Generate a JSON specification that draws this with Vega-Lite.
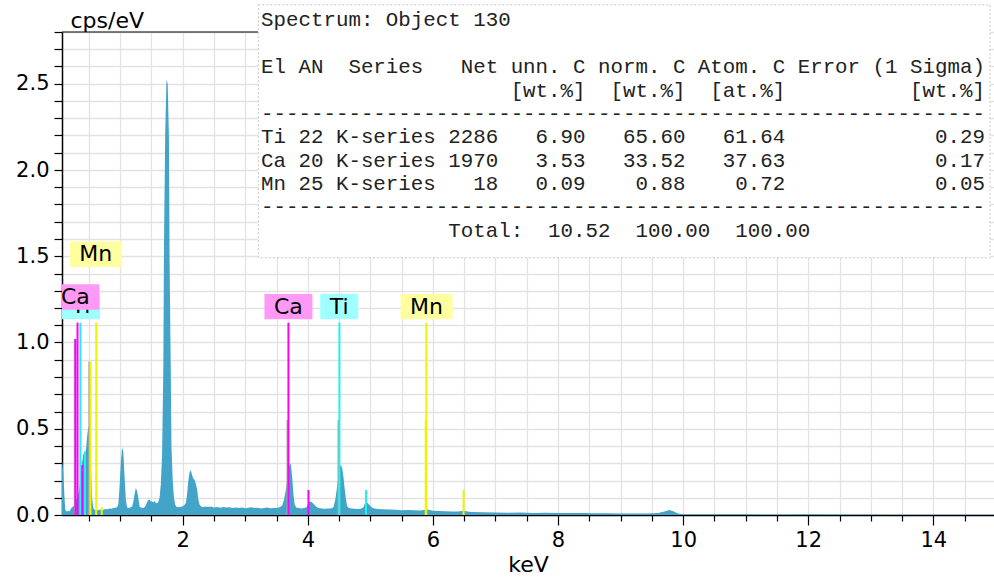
{
  "$schema": "https://vega.github.io/schema/vega-lite/v6.json",
  "width": 932,
  "height": 483,
  "autosize": {"type": "none"},
  "padding": {"left": 62, "top": 32, "right": 0, "bottom": 63},
  "background": "white",
  "config": {
    "view": {"stroke": null},
    "axis": {
      "labelFont": "DejaVu Sans", "labelFontSize": 21, "labelColor": "#000",
      "titleFont": "DejaVu Sans", "titleFontSize": 22, "titleFontWeight": "normal", "titleColor": "#000",
      "gridColor": "#e2e2e2", "gridWidth": 1.3,
      "domainColor": "#000", "domainWidth": 1.5,
      "tickColor": "#000", "tickWidth": 1.2,
      "labelOverlap": false, "labelFlush": false, "labelBound": false
    }
  },
  "datasets": {
    "spectrum": [
      {"keV":0.07,"cps":0.31},{"keV":0.08,"cps":0.29},{"keV":0.09,"cps":0.24},{"keV":0.10,"cps":0.18},{"keV":0.11,"cps":0.1},
      {"keV":0.12,"cps":0.04},{"keV":0.13,"cps":0.025},{"keV":0.15,"cps":0.02},{"keV":0.17,"cps":0.025},{"keV":0.19,"cps":0.02},
      {"keV":0.21,"cps":0.035},{"keV":0.23,"cps":0.045},{"keV":0.25,"cps":0.05},{"keV":0.27,"cps":0.06},{"keV":0.29,"cps":0.08},
      {"keV":0.31,"cps":0.1},{"keV":0.33,"cps":0.12},{"keV":0.35,"cps":0.16},{"keV":0.37,"cps":0.22},{"keV":0.39,"cps":0.3},
      {"keV":0.41,"cps":0.35},{"keV":0.43,"cps":0.37},{"keV":0.45,"cps":0.36},{"keV":0.47,"cps":0.45},{"keV":0.49,"cps":0.51},
      {"keV":0.51,"cps":0.52},{"keV":0.53,"cps":0.3},{"keV":0.55,"cps":0.1},{"keV":0.57,"cps":0.04},{"keV":0.59,"cps":0.03},
      {"keV":0.62,"cps":0.025},{"keV":0.65,"cps":0.03},{"keV":0.68,"cps":0.03},{"keV":0.71,"cps":0.028},{"keV":0.74,"cps":0.032},
      {"keV":0.77,"cps":0.035},{"keV":0.80,"cps":0.033},{"keV":0.83,"cps":0.038},{"keV":0.86,"cps":0.036},{"keV":0.89,"cps":0.04},
      {"keV":0.92,"cps":0.042},{"keV":0.95,"cps":0.045},{"keV":0.97,"cps":0.06},{"keV":0.99,"cps":0.16},{"keV":1.01,"cps":0.3},
      {"keV":1.03,"cps":0.39},{"keV":1.05,"cps":0.37},{"keV":1.07,"cps":0.22},{"keV":1.09,"cps":0.09},{"keV":1.11,"cps":0.045},
      {"keV":1.13,"cps":0.04},{"keV":1.15,"cps":0.042},{"keV":1.17,"cps":0.045},{"keV":1.19,"cps":0.05},{"keV":1.21,"cps":0.075},
      {"keV":1.23,"cps":0.12},{"keV":1.25,"cps":0.155},{"keV":1.27,"cps":0.14},{"keV":1.29,"cps":0.1},{"keV":1.31,"cps":0.05},
      {"keV":1.33,"cps":0.043},{"keV":1.35,"cps":0.042},{"keV":1.37,"cps":0.04},{"keV":1.39,"cps":0.045},{"keV":1.41,"cps":0.055},
      {"keV":1.43,"cps":0.075},{"keV":1.45,"cps":0.085},{"keV":1.47,"cps":0.088},{"keV":1.49,"cps":0.08},{"keV":1.51,"cps":0.078},
      {"keV":1.53,"cps":0.072},{"keV":1.55,"cps":0.082},{"keV":1.57,"cps":0.07},{"keV":1.59,"cps":0.068},{"keV":1.61,"cps":0.075},
      {"keV":1.63,"cps":0.1},{"keV":1.65,"cps":0.18},{"keV":1.67,"cps":0.35},{"keV":1.69,"cps":0.86},{"keV":1.70,"cps":1.54},
      {"keV":1.72,"cps":2.21},{"keV":1.74,"cps":2.52},{"keV":1.76,"cps":2.50},{"keV":1.78,"cps":2.18},{"keV":1.79,"cps":1.47},
      {"keV":1.81,"cps":0.80},{"keV":1.82,"cps":0.4},{"keV":1.84,"cps":0.2},{"keV":1.86,"cps":0.1},{"keV":1.88,"cps":0.06},
      {"keV":1.90,"cps":0.048},{"keV":1.93,"cps":0.045},{"keV":1.96,"cps":0.047},{"keV":1.99,"cps":0.05},{"keV":2.02,"cps":0.055},
      {"keV":2.05,"cps":0.07},{"keV":2.07,"cps":0.12},{"keV":2.09,"cps":0.2},{"keV":2.11,"cps":0.25},{"keV":2.13,"cps":0.26},
      {"keV":2.15,"cps":0.23},{"keV":2.17,"cps":0.21},{"keV":2.19,"cps":0.205},{"keV":2.21,"cps":0.18},{"keV":2.23,"cps":0.15},
      {"keV":2.25,"cps":0.09},{"keV":2.27,"cps":0.06},{"keV":2.30,"cps":0.048},{"keV":2.33,"cps":0.045},{"keV":2.36,"cps":0.05},
      {"keV":2.40,"cps":0.046},{"keV":2.45,"cps":0.05},{"keV":2.50,"cps":0.044},{"keV":2.55,"cps":0.047},{"keV":2.60,"cps":0.042},
      {"keV":2.65,"cps":0.046},{"keV":2.70,"cps":0.043},{"keV":2.75,"cps":0.045},{"keV":2.80,"cps":0.041},{"keV":2.85,"cps":0.044},
      {"keV":2.90,"cps":0.04},{"keV":2.95,"cps":0.043},{"keV":3.00,"cps":0.039},{"keV":3.05,"cps":0.042},{"keV":3.10,"cps":0.045},
      {"keV":3.15,"cps":0.04},{"keV":3.20,"cps":0.042},{"keV":3.25,"cps":0.038},{"keV":3.30,"cps":0.041},{"keV":3.35,"cps":0.043},
      {"keV":3.40,"cps":0.039},{"keV":3.45,"cps":0.041},{"keV":3.50,"cps":0.04},{"keV":3.55,"cps":0.045},{"keV":3.59,"cps":0.055},
      {"keV":3.62,"cps":0.09},{"keV":3.65,"cps":0.15},{"keV":3.67,"cps":0.2},{"keV":3.69,"cps":0.26},{"keV":3.71,"cps":0.3},
      {"keV":3.73,"cps":0.29},{"keV":3.75,"cps":0.22},{"keV":3.77,"cps":0.12},{"keV":3.79,"cps":0.06},{"keV":3.82,"cps":0.042},
      {"keV":3.86,"cps":0.04},{"keV":3.90,"cps":0.038},{"keV":3.94,"cps":0.04},{"keV":3.98,"cps":0.045},{"keV":4.01,"cps":0.07},
      {"keV":4.03,"cps":0.078},{"keV":4.06,"cps":0.075},{"keV":4.09,"cps":0.065},{"keV":4.13,"cps":0.05},{"keV":4.17,"cps":0.04},
      {"keV":4.22,"cps":0.037},{"keV":4.27,"cps":0.036},{"keV":4.32,"cps":0.038},{"keV":4.37,"cps":0.037},{"keV":4.41,"cps":0.045},
      {"keV":4.44,"cps":0.09},{"keV":4.47,"cps":0.17},{"keV":4.49,"cps":0.23},{"keV":4.51,"cps":0.28},{"keV":4.53,"cps":0.29},
      {"keV":4.55,"cps":0.27},{"keV":4.57,"cps":0.22},{"keV":4.59,"cps":0.15},{"keV":4.61,"cps":0.09},{"keV":4.63,"cps":0.05},
      {"keV":4.66,"cps":0.04},{"keV":4.70,"cps":0.037},{"keV":4.75,"cps":0.036},{"keV":4.80,"cps":0.035},{"keV":4.85,"cps":0.036},
      {"keV":4.89,"cps":0.045},{"keV":4.92,"cps":0.075},{"keV":4.95,"cps":0.072},{"keV":4.98,"cps":0.06},{"keV":5.02,"cps":0.045},
      {"keV":5.06,"cps":0.037},{"keV":5.12,"cps":0.035},{"keV":5.2,"cps":0.033},{"keV":5.3,"cps":0.032},{"keV":5.4,"cps":0.03},
      {"keV":5.5,"cps":0.028},{"keV":5.6,"cps":0.029},{"keV":5.7,"cps":0.027},{"keV":5.8,"cps":0.026},{"keV":5.88,"cps":0.03},
      {"keV":5.92,"cps":0.032},{"keV":6.0,"cps":0.024},{"keV":6.1,"cps":0.023},{"keV":6.2,"cps":0.022},{"keV":6.3,"cps":0.02},
      {"keV":6.4,"cps":0.02},{"keV":6.49,"cps":0.025},{"keV":6.6,"cps":0.018},{"keV":6.8,"cps":0.016},{"keV":7.0,"cps":0.014},
      {"keV":7.2,"cps":0.013},{"keV":7.4,"cps":0.014},{"keV":7.6,"cps":0.012},{"keV":7.8,"cps":0.013},{"keV":8.0,"cps":0.011},
      {"keV":8.2,"cps":0.012},{"keV":8.4,"cps":0.011},{"keV":8.6,"cps":0.01},{"keV":8.8,"cps":0.01},{"keV":9.0,"cps":0.009},
      {"keV":9.2,"cps":0.008},{"keV":9.4,"cps":0.009},{"keV":9.6,"cps":0.012},{"keV":9.7,"cps":0.02},{"keV":9.78,"cps":0.029},
      {"keV":9.85,"cps":0.02},{"keV":9.92,"cps":0.008},{"keV":10.0,"cps":0.005},{"keV":10.5,"cps":0.004},{"keV":11.0,"cps":0.004},
      {"keV":11.5,"cps":0.003},{"keV":12.0,"cps":0.004},{"keV":12.5,"cps":0.003},{"keV":13.0,"cps":0.003},{"keV":13.5,"cps":0.002},
      {"keV":14.0,"cps":0.002},{"keV":14.5,"cps":0.002},{"keV":14.97,"cps":0.001}
    ],
    "lines": [
      {"keV":0.275,"cps":1.02,"s":"gray"},{"keV":0.285,"cps":1.02,"s":"Ca"},{"keV":0.318,"cps":1.115,"s":"Ca"},
      {"keV":0.365,"cps":1.115,"s":"Ti"},{"keV":0.395,"cps":0.29,"s":"Ca"},{"keV":0.438,"cps":0.37,"s":"Ti"},
      {"keV":0.507,"cps":0.889,"s":"gray"},{"keV":0.525,"cps":0.889,"s":"Mn"},{"keV":0.617,"cps":1.115,"s":"Mn"},
      {"keV":0.705,"cps":0.046,"s":"Mn"},
      {"keV":3.675,"cps":0.55,"s":"gray"},{"keV":3.69,"cps":1.115,"s":"Ca"},{"keV":4.01,"cps":0.145,"s":"Ca"},
      {"keV":4.49,"cps":0.55,"s":"gray"},{"keV":4.505,"cps":1.115,"s":"Ti"},{"keV":4.93,"cps":0.145,"s":"Ti"},
      {"keV":5.885,"cps":0.55,"s":"Mn"},{"keV":5.895,"cps":1.115,"s":"Mn"},{"keV":6.49,"cps":0.145,"s":"Mn"}
    ],
    "labels": [
      {"el":"Ti","keV":0.374,"cps":1.209},{"el":"Ca","keV":0.283,"cps":1.264},{"el":"Mn","keV":0.611,"cps":1.512},
      {"el":"Ca","keV":3.69,"cps":1.208},{"el":"Ti","keV":4.502,"cps":1.208},{"el":"Mn","keV":5.898,"cps":1.208}
    ]
  },
  "encoding": {
    "x": {"field": "keV", "type": "quantitative",
      "scale": {"domain": [0.07, 14.97], "nice": false, "zero": false},
      "axis": {"title": "keV", "grid": true,
        "values": [0.5,1,1.5,2,2.5,3,3.5,4,4.5,5,5.5,6,6.5,7,7.5,8,8.5,9,9.5,10,10.5,11,11.5,12,12.5,13,13.5,14,14.5],
        "labelExpr": "datum.value % 2 === 0 ? format(datum.value, 'd') : ''",
        "tickSize": {"condition": {"test": "datum.value % 2 === 0", "value": 10}, "value": 6},
        "labelPadding": 4, "titlePadding": 4}},
    "y": {"field": "cps", "type": "quantitative",
      "scale": {"domain": [0, 2.8], "nice": false},
      "axis": {"title": "cps/eV", "grid": true,
        "values": [0,0.1,0.2,0.3,0.4,0.5,0.6,0.7,0.8,0.9,1,1.1,1.2,1.3,1.4,1.5,1.6,1.7,1.8,1.9,2,2.1,2.2,2.3,2.4,2.5,2.6,2.7,2.8],
        "labelExpr": "abs(datum.value*2 - round(datum.value*2)) < 0.001 ? format(datum.value, '.1f') : ''",
        "tickSize": 8, "labelPadding": 5,
        "titleAngle": 0, "titleAlign": "left", "titleBaseline": "alphabetic", "titleX": 8, "titleY": -5}}
  },
  "layer": [
    {
      "data": {"name": "spectrum"},
      "mark": {"type": "area", "color": "#42a4c8", "clip": true, "interpolate": "linear"}
    },
    {
      "data": {"name": "labels"},
      "transform": [{"filter": "datum.el === 'Ca' && datum.keV > 3"}],
      "mark": {"type": "rule", "color": "#000", "strokeWidth": 1.2, "clip": false},
      "encoding": {
        "y": {"datum": 2.8, "type": "quantitative"},
        "x": {"datum": 0.07, "type": "quantitative"},
        "x2": {"datum": 3.209}
      }
    },
    {
      "data": {"name": "labels"},
      "transform": [{"filter": "datum.el === 'Ca' && datum.keV > 3"}],
      "mark": {"type": "rect", "fill": "white", "stroke": "#c8c8c8", "strokeDash": [2, 2], "strokeWidth": 1, "clip": false},
      "encoding": {
        "x": {"datum": 3.209, "type": "quantitative"},
        "x2": {"datum": 14.906},
        "y": {"datum": 2.958, "type": "quantitative"},
        "y2": {"datum": 1.491}
      }
    },
    {
      "data": {"name": "labels"},
      "transform": [{"filter": "datum.el === 'Ca' && datum.keV > 3"}],
      "mark": {"type": "text", "font": "Liberation Mono", "fontSize": 20.8, "lineHeight": 23.35, "align": "left", "baseline": "alphabetic", "color": "#222", "clip": false,
        "text": [
          "Spectrum:\u00a0Object\u00a0130",
          "\u200b\u00a0",
          "El\u00a0AN\u00a0\u00a0Series\u00a0\u00a0\u00a0Net\u00a0unn.\u00a0C\u00a0norm.\u00a0C\u00a0Atom.\u00a0C\u00a0Error\u00a0(1\u00a0Sigma)",
          "\u200b\u00a0\u00a0\u00a0\u00a0\u00a0\u00a0\u00a0\u00a0\u00a0\u00a0\u00a0\u00a0\u00a0\u00a0\u00a0\u00a0\u00a0\u00a0\u00a0\u00a0[wt.%]\u00a0\u00a0[wt.%]\u00a0\u00a0[at.%]\u00a0\u00a0\u00a0\u00a0\u00a0\u00a0\u00a0\u00a0\u00a0\u00a0[wt.%]",
          "----------------------------------------------------------",
          "Ti\u00a022\u00a0K-series\u00a02286\u00a0\u00a0\u00a06.90\u00a0\u00a0\u00a065.60\u00a0\u00a0\u00a061.64\u00a0\u00a0\u00a0\u00a0\u00a0\u00a0\u00a0\u00a0\u00a0\u00a0\u00a0\u00a00.29",
          "Ca\u00a020\u00a0K-series\u00a01970\u00a0\u00a0\u00a03.53\u00a0\u00a0\u00a033.52\u00a0\u00a0\u00a037.63\u00a0\u00a0\u00a0\u00a0\u00a0\u00a0\u00a0\u00a0\u00a0\u00a0\u00a0\u00a00.17",
          "Mn\u00a025\u00a0K-series\u00a0\u00a0\u00a018\u00a0\u00a0\u00a00.09\u00a0\u00a0\u00a0\u00a00.88\u00a0\u00a0\u00a0\u00a00.72\u00a0\u00a0\u00a0\u00a0\u00a0\u00a0\u00a0\u00a0\u00a0\u00a0\u00a0\u00a00.05",
          "----------------------------------------------------------",
          "\u200b\u00a0\u00a0\u00a0\u00a0\u00a0\u00a0\u00a0\u00a0\u00a0\u00a0\u00a0\u00a0\u00a0\u00a0\u00a0Total:\u00a0\u00a010.52\u00a0\u00a0100.00\u00a0\u00a0100.00"
        ]},
      "encoding": {
        "x": {"datum": 3.252, "type": "quantitative"},
        "y": {"datum": 2.832, "type": "quantitative"}
      }
    },
    {
      "data": {"name": "lines"},
      "mark": {"type": "rule", "strokeWidth": 2, "clip": true},
      "encoding": {
        "y2": {"datum": 0},
        "color": {"field": "s", "type": "nominal", "legend": null,
          "scale": {"domain": ["Ca", "Ti", "Mn", "gray"], "range": ["#ff00ff", "#22f0f0", "#f2f200", "#a8a8a8"]}}
      }
    },
    {
      "data": {"name": "labels"},
      "transform": [{"filter": "datum.el === 'Ti'"}],
      "mark": {"type": "point", "filled": true, "opacity": 1, "fill": "#a0ffff", "strokeWidth": 0, "clip": true, "size": 1444, "shape": "M-1,-0.671H1V0.671H-1Z"}
    },
    {
      "data": {"name": "labels"},
      "transform": [{"filter": "datum.el === 'Ti'"}],
      "mark": {"type": "text", "font": "DejaVu Sans", "fontSize": 22, "color": "#000", "align": "center", "baseline": "middle", "clip": true},
      "encoding": {"text": {"field": "el"}}
    },
    {
      "data": {"name": "labels"},
      "transform": [{"filter": "datum.el === 'Ca'"}],
      "mark": {"type": "point", "filled": true, "opacity": 1, "fill": "#ff99f5", "strokeWidth": 0, "clip": true, "size": 2304, "shape": "M-1,-0.531H1V0.531H-1Z"}
    },
    {
      "data": {"name": "labels"},
      "transform": [{"filter": "datum.el === 'Ca'"}],
      "mark": {"type": "text", "font": "DejaVu Sans", "fontSize": 22, "color": "#000", "align": "center", "baseline": "middle", "clip": true},
      "encoding": {"text": {"field": "el"}}
    },
    {
      "data": {"name": "labels"},
      "transform": [{"filter": "datum.el === 'Mn'"}],
      "mark": {"type": "point", "filled": true, "opacity": 1, "fill": "#ffffa0", "strokeWidth": 0, "clip": true, "size": 2704, "shape": "M-1,-0.49H1V0.49H-1Z"}
    },
    {
      "data": {"name": "labels"},
      "transform": [{"filter": "datum.el === 'Mn'"}],
      "mark": {"type": "text", "font": "DejaVu Sans", "fontSize": 22, "color": "#000", "align": "center", "baseline": "middle", "clip": true},
      "encoding": {"text": {"field": "el"}}
    }
  ]
}
